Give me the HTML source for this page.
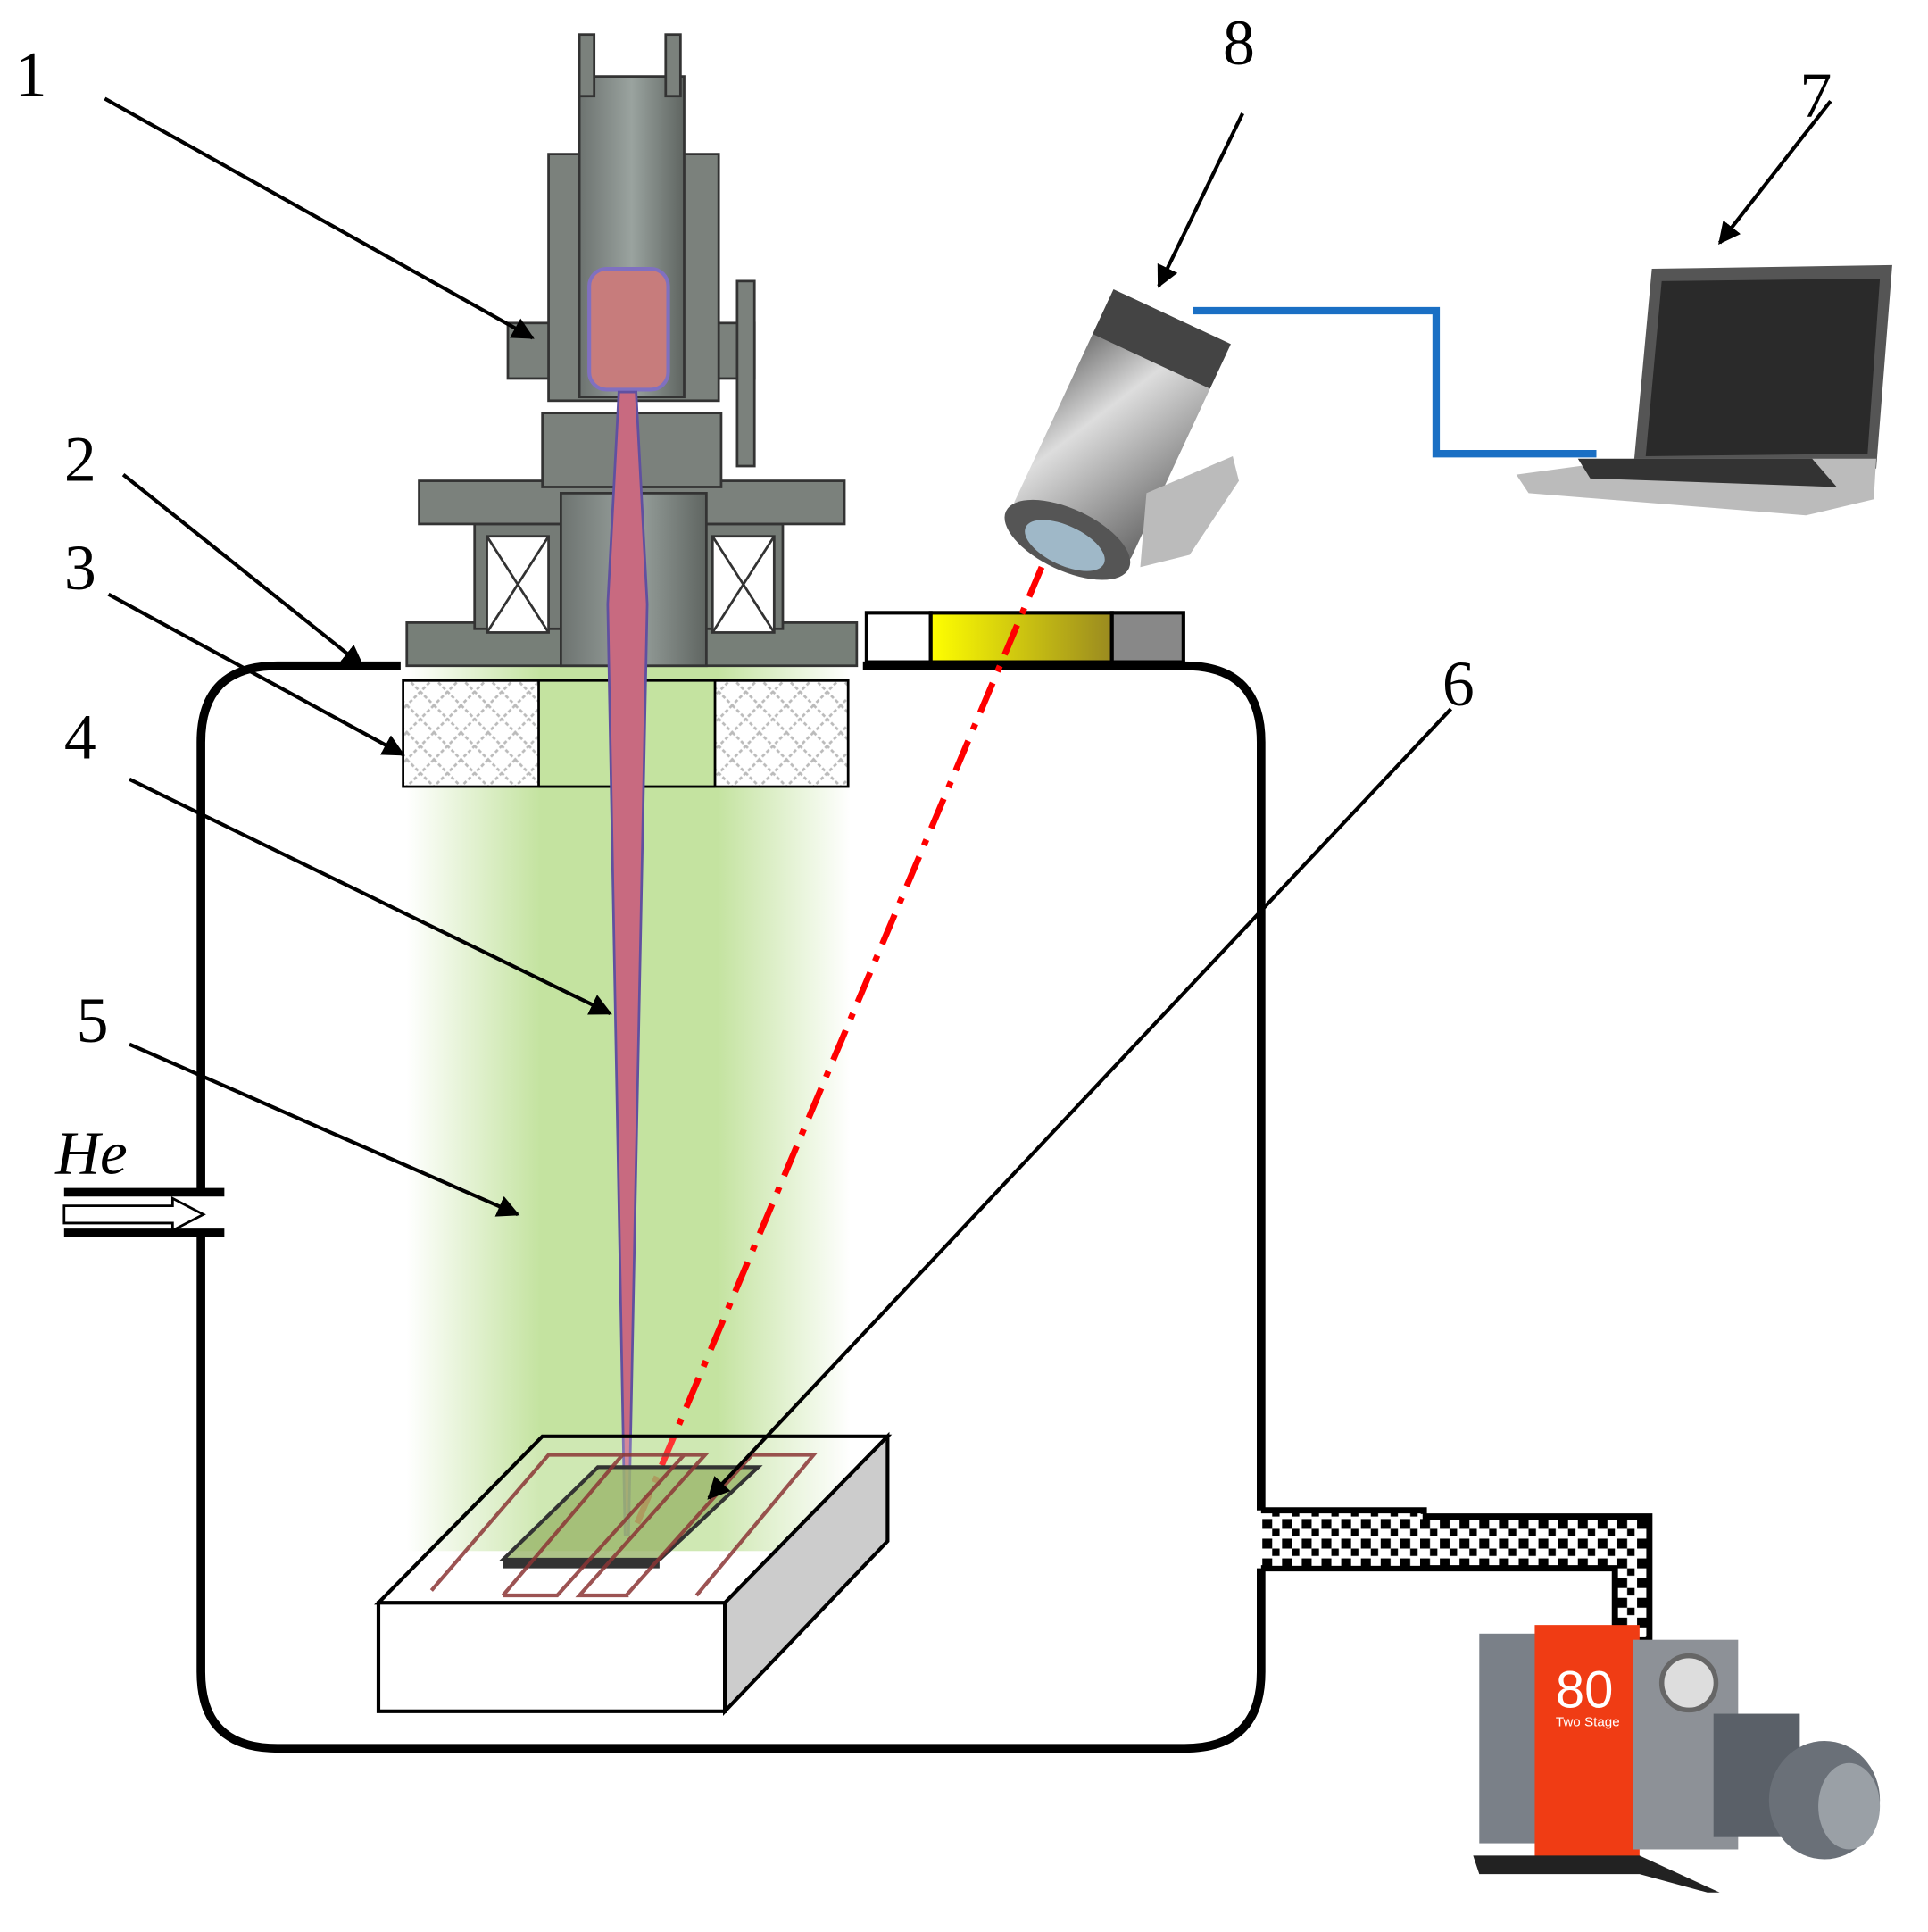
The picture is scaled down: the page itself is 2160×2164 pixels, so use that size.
<!DOCTYPE html>
<html><head><style>html,body{margin:0;padding:0;background:#fff}svg{display:block}</style></head>
<body>
<svg width="2160" height="2164" viewBox="0 0 1564 1567" preserveAspectRatio="none" xmlns="http://www.w3.org/2000/svg" font-family="Liberation Serif, serif">
<defs>
<linearGradient id="gr" x1="0" x2="1" y1="0" y2="0">
<stop offset="0" stop-color="#c4e3a0" stop-opacity="0"/>
<stop offset="0.3" stop-color="#c4e3a0"/>
<stop offset="0.7" stop-color="#c4e3a0"/>
<stop offset="1" stop-color="#c4e3a0" stop-opacity="0"/>
</linearGradient>
<linearGradient id="gun" x1="0" x2="1">
<stop offset="0" stop-color="#6d7370"/><stop offset="0.5" stop-color="#9aa39f"/><stop offset="1" stop-color="#5f6561"/>
</linearGradient>
<linearGradient id="yel" x1="0" x2="1"><stop offset="0" stop-color="#ffff00"/><stop offset="1" stop-color="#9a8a20"/></linearGradient>
<linearGradient id="cam" x1="0" x2="1" y1="0" y2="1"><stop offset="0" stop-color="#555"/><stop offset="0.4" stop-color="#ddd"/><stop offset="1" stop-color="#666"/></linearGradient>
<pattern id="chk" width="16" height="16" patternUnits="userSpaceOnUse"><rect width="16" height="16" fill="#fff"/><rect width="8" height="8" fill="#000"/><rect x="8" y="8" width="6" height="6" fill="#000"/></pattern>
<pattern id="xh" width="22" height="22" patternUnits="userSpaceOnUse"><rect width="22" height="22" fill="#fff"/><path d="M0,0L22,22M22,0L0,22" stroke="#bbb" stroke-width="2" stroke-dasharray="3,2"/></pattern>
<marker id="ar" viewBox="0 0 10 10" refX="9" refY="5" markerWidth="6" markerHeight="6" orient="auto"><path d="M0,0L10,5L0,10z" fill="#000"/></marker>
</defs>

<rect x="330" y="540" width="360" height="718" fill="url(#gr)"/>

<path d="M325,540 H225 Q163,540 163,602 V965 M163,1000 V1356 Q163,1418 225,1418 H961 Q1023,1418 1023,1356 V1272 M1023,1225 V602 Q1023,540 961,540 H700" fill="none" stroke="#000" stroke-width="7"/>
<path d="M52,967H182M52,1000H182" stroke="#000" stroke-width="7"/>
<path d="M52,978H140V972L165,985L140,998V992H52z" fill="#fff" stroke="#000" stroke-width="2"/>
<text x="45" y="952" font-size="50" font-style="italic">He</text>

<path d="M1023,1225H1155V1230H1338V1330H1310V1272H1155V1272H1023" fill="url(#chk)" stroke="#000" stroke-width="5"/>
<rect x="1026" y="1228" width="128" height="42" fill="url(#chk)"/>
<rect x="1155" y="1233" width="180" height="36" fill="url(#chk)"/>
<rect x="1313" y="1233" width="22" height="95" fill="url(#chk)"/>

<rect x="1200" y="1325" width="50" height="170" fill="#7a8088"/>
<rect x="1245" y="1318" width="85" height="190" fill="#f03c14"/>
<text x="1262" y="1385" font-size="42" fill="#fff" font-family="Liberation Sans, sans-serif">80</text>
<text x="1262" y="1400" font-size="11" fill="#fff" font-family="Liberation Sans, sans-serif">Two Stage</text>
<rect x="1325" y="1330" width="85" height="170" fill="#8d9197"/>
<circle cx="1370" cy="1365" r="22" fill="#ddd" stroke="#666" stroke-width="4"/>
<rect x="1390" y="1390" width="70" height="100" fill="#5a6068"/>
<ellipse cx="1480" cy="1460" rx="45" ry="48" fill="#6a7078"/>
<ellipse cx="1500" cy="1465" rx="25" ry="35" fill="#9aa0a6"/>
<path d="M1195,1505H1330L1395,1535H1385L1330,1520H1200z" fill="#222"/>

<rect x="327" y="552" width="110" height="86" fill="url(#xh)" stroke="#000" stroke-width="2"/>
<rect x="580" y="552" width="108" height="86" fill="url(#xh)" stroke="#000" stroke-width="2"/>
<path d="M437,552H580M437,638H580" stroke="#000" stroke-width="2"/>

<g stroke="#333" stroke-width="2">
<rect x="330" y="505" width="365" height="35" fill="#777f78"/>
<rect x="385" y="425" width="250" height="85" fill="#757b76"/>
<rect x="395" y="435" width="50" height="78" fill="#fff"/>
<path d="M395,435L445,513M445,435L395,513" />
<rect x="578" y="435" width="50" height="78" fill="#fff"/>
<path d="M578,435L628,513M628,435L578,513"/>
<rect x="340" y="390" width="345" height="35" fill="#7b817c"/>
<rect x="440" y="335" width="145" height="60" fill="#7b817c"/>
<rect x="455" y="400" width="118" height="140" fill="url(#gun)"/>
<rect x="412" y="262" width="200" height="45" fill="#7b817c"/>
<rect x="445" y="125" width="138" height="200" fill="#7b817c"/>
<rect x="470" y="62" width="85" height="260" fill="url(#gun)"/>
<rect x="470" y="28" width="12" height="50" fill="#7b817c"/>
<rect x="540" y="28" width="12" height="50" fill="#7b817c"/>
<rect x="598" y="228" width="14" height="150" fill="#7b817c"/>
</g>
<rect x="478" y="218" width="64" height="98" rx="14" fill="#c77c7c" stroke="#8070c0" stroke-width="3"/>

<path d="M502,318L516,318L525,490L510,1245L507,1245L493,490z" fill="#c86a80" stroke="#6050a0" stroke-width="2"/>

<rect x="703" y="497" width="52" height="40" fill="#fff" stroke="#000" stroke-width="3"/>
<rect x="755" y="497" width="147" height="40" fill="url(#yel)" stroke="#000" stroke-width="3"/>
<rect x="902" y="497" width="58" height="40" fill="#888" stroke="#000" stroke-width="3"/>

<path d="M845,460L515,1240" stroke="#f00" stroke-width="5" stroke-dasharray="26,10,5,10" />

<g transform="rotate(25 900 360)">
<rect x="850" y="245" width="105" height="200" rx="10" fill="url(#cam)"/>
<rect x="850" y="245" width="105" height="40" fill="#444"/>
<ellipse cx="902" cy="445" rx="55" ry="25" fill="#555"/>
<ellipse cx="902" cy="450" rx="35" ry="16" fill="#9fb8c8"/>
</g>
<path d="M930,400L1000,370L1005,390L965,450L925,460z" fill="#bbb"/>

<path d="M968,252H1165V368H1295" fill="none" stroke="#1a6fc4" stroke-width="6"/>

<path d="M1340,218L1535,215L1522,380L1325,380z" fill="#555"/>
<path d="M1348,228L1525,226L1515,368L1335,370z" fill="#2a2a2a"/>
<path d="M1325,372L1522,372L1520,405L1465,418L1240,400L1230,385z" fill="#bbb"/>
<path d="M1280,372L1470,372L1490,395L1290,388z" fill="#333"/>

<path d="M307,1300L440,1165H720L588,1300z" fill="#fff" fill-opacity="0.2" stroke="#000" stroke-width="3"/>
<path d="M588,1300L720,1165V1250L588,1388z" fill="#ccc" stroke="#000" stroke-width="3"/>
<rect x="307" y="1300" width="281" height="88" fill="#fff" stroke="#000" stroke-width="3"/>
<path d="M408,1265L485,1190H615L535,1265z" fill="#9ab56a" fill-opacity="0.8" stroke="#333" stroke-width="3"/>
<path d="M408,1265H535V1272H408z" fill="#333"/>
<path d="M350,1290L445,1180H572L470,1294H508L610,1180L660,1180L565,1294M470,1294L510,1294M408,1294L505,1180M408,1294H452L555,1180" fill="none" stroke="#8b3535" stroke-width="3" stroke-opacity="0.85"/>

<g stroke="#000" stroke-width="3" marker-end="url(#ar)">
<path d="M85,80L432,274"/>
<path d="M100,385L294,540"/>
<path d="M88,482L327,612"/>
<path d="M105,632L495,822"/>
<path d="M105,847L420,985"/>
<path d="M1177,575L575,1215"/>
<path d="M1485,82L1395,197"/>
<path d="M1008,92L940,232"/>
</g>
<g font-size="52">
<text x="12" y="78">1</text>
<text x="52" y="390">2</text>
<text x="52" y="478">3</text>
<text x="52" y="615">4</text>
<text x="62" y="845">5</text>
<text x="1170" y="572">6</text>
<text x="1460" y="95">7</text>
<text x="992" y="52">8</text>
</g>
</svg>
</body></html>
